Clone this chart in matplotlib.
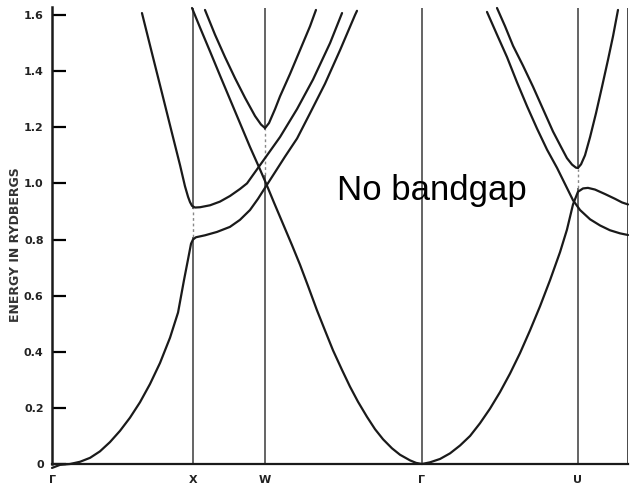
import matplotlib
matplotlib.use('Agg')
import matplotlib.pyplot as plt

# symmetry points along the path
sym_labels = ['Γ', 'X', 'W', 'Γ', 'U']
sym_pos = [0.0, 1.0, 1.51, 2.624, 3.73]
k_end = 4.085

yticks = [0, 0.2, 0.4, 0.6, 0.8, 1.0, 1.2, 1.4, 1.6]
ytick_labels = ['0', '0.2', '0.4', '0.6', '0.8', '1.0', '1.2', '1.4', '1.6']

# band A: lowest band Γ->X, then lower branch X->W and on towards Γ
bandA_k = [0.0, 0.057, 0.128, 0.199, 0.270, 0.340, 0.411, 0.482, 0.553, 0.624, 0.695, 0.766,
           0.837, 0.894, 0.936, 0.965, 0.986, 1.000, 1.021, 1.085, 1.170, 1.262, 1.333, 1.404,
           1.461, 1.518, 1.582, 1.652, 1.738, 1.830, 1.936, 2.043, 2.149, 2.163]
bandA_E = [-0.014, -0.003, 0.0, 0.008, 0.022, 0.045, 0.078, 0.118, 0.165, 0.22, 0.285, 0.36,
           0.45, 0.54, 0.655, 0.73, 0.785, 0.80, 0.808, 0.815, 0.827, 0.845, 0.87, 0.905,
           0.945, 0.99, 1.04, 1.095, 1.16, 1.25, 1.355, 1.475, 1.60, 1.615]

# band B: second band Γ->X (descending), then upper branch X->W and on
bandB_k = [0.638, 0.709, 0.780, 0.851, 0.908, 0.943, 0.965, 0.979, 0.993, 1.014, 1.050, 1.121,
           1.191, 1.262, 1.333, 1.383, 1.461, 1.532, 1.617, 1.738, 1.851, 1.972, 2.057]
bandB_E = [1.607, 1.464, 1.322, 1.179, 1.065, 0.99, 0.952, 0.933, 0.92, 0.914, 0.915, 0.922,
           0.935, 0.955, 0.98, 1.0, 1.055, 1.105, 1.165, 1.265, 1.37, 1.5, 1.607]

# band around W: V shaped upper band
bandW_k = [1.085, 1.156, 1.227, 1.298, 1.369, 1.440, 1.482, 1.511, 1.539, 1.582, 1.617, 1.688,
           1.759, 1.830, 1.872]
bandW_E = [1.618, 1.53, 1.45, 1.375, 1.305, 1.24, 1.21, 1.197, 1.215, 1.265, 1.31, 1.39,
           1.475, 1.56, 1.618]

# band D: from top of X through W down to Γ and up towards U (bump beyond U)
bandD_k = [0.993, 1.050, 1.121, 1.191, 1.262, 1.333, 1.404, 1.475, 1.518, 1.574, 1.638, 1.702,
           1.759, 1.816, 1.879, 1.936, 1.993, 2.057, 2.113, 2.170, 2.234, 2.291, 2.348, 2.411,
           2.468, 2.539, 2.582, 2.624, 2.681, 2.752, 2.823, 2.894, 2.965, 3.035, 3.106, 3.177,
           3.248, 3.319, 3.390, 3.461, 3.532, 3.603, 3.652, 3.695, 3.730, 3.766, 3.801, 3.851,
           3.922, 3.993, 4.043, 4.085]
bandD_E = [1.625, 1.555, 1.47, 1.385, 1.30, 1.215, 1.13, 1.05, 1.0, 0.932, 0.856, 0.78,
           0.71, 0.634, 0.548, 0.476, 0.405, 0.335, 0.276, 0.222, 0.168, 0.124, 0.088, 0.056,
           0.033, 0.013, 0.004, 0.0, 0.006, 0.018, 0.038, 0.066, 0.10, 0.145, 0.197, 0.256,
           0.322, 0.395, 0.476, 0.562, 0.655, 0.755, 0.835, 0.925, 0.97, 0.982, 0.984, 0.978,
           0.962, 0.945, 0.932, 0.925]

# band L1: descending towards U, crossing, ending low at right edge
bandL1_k = [3.085, 3.156, 3.227, 3.298, 3.369, 3.440, 3.511, 3.582, 3.638, 3.695, 3.745, 3.816,
            3.887, 3.957, 4.028, 4.085]
bandL1_E = [1.611, 1.53, 1.45, 1.36, 1.275, 1.195, 1.12, 1.055, 0.998, 0.94, 0.905, 0.872,
            0.85, 0.833, 0.822, 0.816]

# band L2: V shaped band at U
bandL2_k = [3.156, 3.213, 3.270, 3.340, 3.411, 3.482, 3.553, 3.610, 3.652, 3.688, 3.716, 3.730,
            3.752, 3.780, 3.816, 3.858, 3.901, 3.943, 3.979, 4.014]
bandL2_E = [1.625, 1.56, 1.49, 1.42, 1.345, 1.265, 1.185, 1.13, 1.09, 1.067, 1.056, 1.055,
            1.068, 1.10, 1.165, 1.25, 1.345, 1.44, 1.525, 1.618]

bands = [(bandA_k, bandA_E), (bandB_k, bandB_E), (bandW_k, bandW_E),
         (bandD_k, bandD_E), (bandL1_k, bandL1_E), (bandL2_k, bandL2_E)]

# broken (dashed) parts of the vertical symmetry lines: (k, E_low, E_high)
vline_gaps = [(1.0, 0.81, 0.91), (1.51, 1.03, 1.19), (3.73, 0.985, 1.05)]

fig = plt.figure(figsize=(6.34, 4.90), dpi=100)
ax = fig.add_axes([52 / 634, 26 / 490, 576 / 634, (464 - 6.6) / 490])

vcol = '#3a3a3a'
top_E = 1.625
for p in sym_pos[1:] + [k_end]:
    gap = [g for g in vline_gaps if g[0] == p]
    if gap:
        _, lo, hi = gap[0]
        ax.vlines(p, 0, lo, color=vcol, lw=1.1)
        ax.vlines(p, hi, top_E, color=vcol, lw=1.1)
        ax.vlines(p, lo, hi, color='#888888', lw=1.0, linestyles=(0, (2, 2)))
    else:
        ax.vlines(p, 0, top_E, color=vcol, lw=1.1 if p != k_end else 1.3)

for kk, ee in bands:
    ax.plot(kk, ee, color='#1a1a1a', lw=1.6, clip_on=False, solid_capstyle='round',
            solid_joinstyle='round')

ax.set_xlim(0, k_end)
ax.set_ylim(0, 1.63)
for s in ['top', 'right']:
    ax.spines[s].set_visible(False)
ax.spines['left'].set_linewidth(1.8)
ax.spines['bottom'].set_linewidth(1.6)
ax.spines['left'].set_color('#1a1a1a')
ax.spines['bottom'].set_color('#1a1a1a')

ax.set_yticks(yticks)
ax.set_yticklabels(ytick_labels, fontsize=8, fontweight='bold', family='DejaVu Sans',
                   color='#222222')
ax.tick_params(axis='y', direction='in', length=10, width=1.6, pad=6)
ax.set_xticks(sym_pos)
ax.set_xticklabels(sym_labels, fontsize=8, fontweight='bold', color='#222222')
ax.tick_params(axis='x', length=0, pad=8)

fig.text(16 / 634, 1 - 245 / 490, 'ENERGY IN RYDBERGS', fontsize=9, fontweight='bold',
         color='#333333', rotation=90, ha='center', va='center')

fig.text(431.5 / 634, 1 - 200 / 490, 'No bandgap', fontsize=25, family='Liberation Sans',
         ha='center', va='baseline', color='black')

fig.savefig('out.png', dpi=100)
